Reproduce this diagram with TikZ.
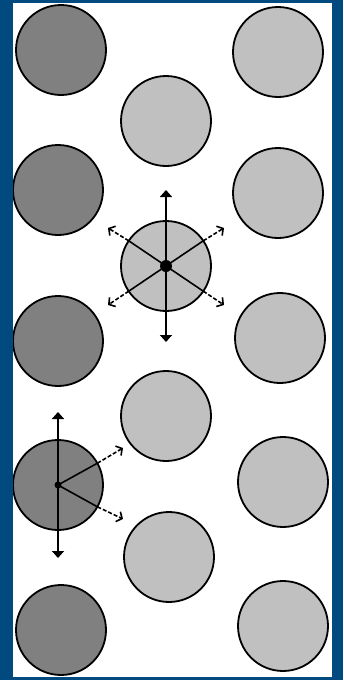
\documentclass[tikz,border=0pt]{standalone}
\usetikzlibrary{arrows.meta,calc}
\definecolor{frameblue}{RGB}{0,74,127}
\definecolor{darkgray}{RGB}{128,128,128}
\definecolor{lightgray}{RGB}{192,192,192}
\tikzset{
  ball/.style={circle,draw=black,line width=1.8pt,minimum size=90pt,inner sep=0pt},
  darkball/.style={ball,fill=darkgray},
  lightball/.style={ball,fill=lightgray},
  solidarrow/.style={line width=2pt,-{Triangle[width=12pt,length=7pt]}},
  spoke/.style={line width=1.6pt},
  barbarrow/.style={line width=1.6pt,dash pattern=on 4pt off 2pt,-{Straight Barb[length=4.5pt,width=11pt,line width=1.6pt,sep=0pt]}},
}
\begin{document}
\begin{tikzpicture}[x=1pt,y=-1pt]
\useasboundingbox (0,0) rectangle (343,680);
\fill[frameblue] (0,0) rectangle (343,680);
\begin{scope}
\clip (13,3) rectangle (332,677);
\fill[white] (13,3) rectangle (332,677);
% left column (dark)
\node[darkball] (d1) at (61,50) {};
\node[darkball] (d2) at (58,190) {};
\node[darkball] (d3) at (58,341) {};
\node[darkball] (d4) at (58,485) {};
\node[darkball] (d5) at (61,630) {};
% middle column
\node[lightball] (m1) at (166,121) {};
\node[lightball] (m2) at (166,266) {};
\node[lightball] (m3) at (166,416) {};
\node[lightball] (m4) at (169,557) {};
% right column
\node[lightball] (r1) at (278,52) {};
\node[lightball] (r2) at (278,193) {};
\node[lightball] (r3) at (280,338) {};
\node[lightball] (r4) at (283,482) {};
\node[lightball] (r5) at (283,626) {};
% arrows on m2
\coordinate (m2up) at (166,190);
\coordinate (m2dn) at (166,342);
\coordinate (m2ul) at (108,228);
\coordinate (m2ur) at (224,228);
\coordinate (m2ll) at (108,305);
\coordinate (m2lr) at (224,305);
\coordinate (m2bul) at (128.7,240.8);
\coordinate (m2bur) at (203.3,240.8);
\coordinate (m2bll) at (128.7,291.2);
\coordinate (m2blr) at (203.3,291.2);
\draw[spoke] (m2.center) -- (m2bul);
\draw[spoke] (m2.center) -- (m2bur);
\draw[spoke] (m2.center) -- (m2bll);
\draw[spoke] (m2.center) -- (m2blr);
\draw[barbarrow] (m2bul) -- (m2ul);
\draw[barbarrow] (m2bur) -- (m2ur);
\draw[barbarrow] (m2bll) -- (m2ll);
\draw[barbarrow] (m2blr) -- (m2lr);
\draw[solidarrow] (m2.center) -- (m2up);
\draw[solidarrow] (m2.center) -- (m2dn);
\fill[black] (m2.center) circle (6pt);
% arrows on d4
\coordinate (d4up) at (58,412);
\coordinate (d4dn) at (58,558);
\coordinate (d4ur) at (123,448);
\coordinate (d4lr) at (123,519);
\coordinate (d4bur) at (97.4,463.2);
\coordinate (d4blr) at (97.4,506.8);
\draw[spoke] (d4.center) -- (d4bur);
\draw[spoke] (d4.center) -- (d4blr);
\draw[barbarrow] (d4bur) -- (d4ur);
\draw[barbarrow] (d4blr) -- (d4lr);
\draw[solidarrow] (d4.center) -- (d4up);
\draw[solidarrow] (d4.center) -- (d4dn);
\fill[black] (d4.center) circle (3.5pt);
\end{scope}
\end{tikzpicture}
\end{document}
